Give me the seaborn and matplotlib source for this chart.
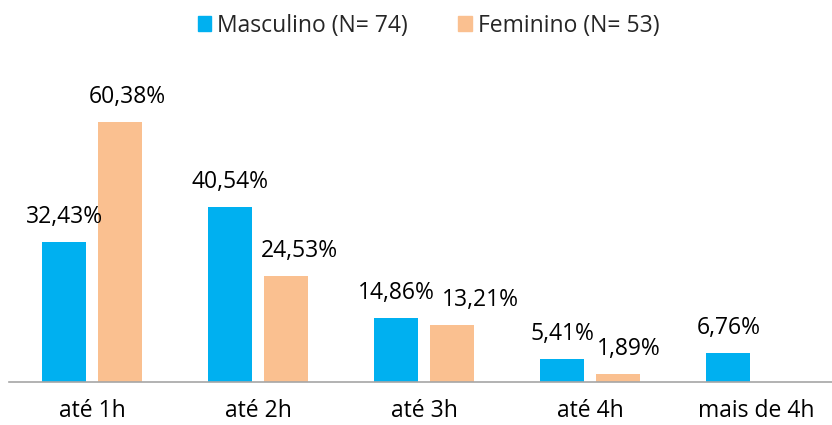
import numpy as np
import pandas as pd
import matplotlib
matplotlib.use("Agg")
import matplotlib.pyplot as plt
import seaborn as sns

categorias = ["até 1h", "até 2h", "até 3h", "até 4h", "mais de 4h"]
masculino = [32.43, 40.54, 14.86, 5.41, 6.76]
feminino = [60.38, 24.53, 13.21, 1.89, np.nan]
series = ["Masculino (N= 74)", "Feminino (N= 53)"]
cores = ["#00B0F0", "#FAC090"]

df = pd.DataFrame({
    "cat": categorias * 2,
    "valor": masculino + feminino,
    "serie": [series[0]] * 5 + [series[1]] * 5,
})

sns.set_style("white")
plt.rcParams["font.family"] = ["Open Sans", "DejaVu Sans"]

fig = plt.figure(figsize=(8.32, 4.25), dpi=100)
ax = fig.add_axes([9 / 832, 43 / 425, 830 / 832, 302 / 425])

sns.barplot(data=df, x="cat", y="valor", hue="serie", palette=cores,
            width=0.663, gap=0.2, saturation=1, linewidth=0,
            ax=ax, legend=False)

ax.set_ylim(0, 70)
ax.set_xlim(-0.5, 4.5)
ax.set_xlabel("")
ax.set_ylabel("")
ax.set_yticks([])
ax.tick_params(axis="x", length=0, labelsize=16.5, pad=12, colors="#000000")
for s in ["top", "right", "left"]:
    ax.spines[s].set_visible(False)
ax.spines["bottom"].set_color("#A6A6A6")
ax.spines["bottom"].set_linewidth(1.2)

# rótulos de valor (deslocamento horizontal em pixels)
desloc = [[0, 0, 0, 0, 0], [8, 14, 29, 11, 0]]
for k, cont in enumerate(ax.containers[:2]):
    vals = masculino if k == 0 else feminino
    for i, bar in enumerate(cont):
        v = vals[i]
        if np.isnan(v):
            continue
        txt = f"{v:.2f}".replace(".", ",") + "%"
        ax.annotate(txt, (bar.get_x() + bar.get_width() / 2, v),
                    xytext=(desloc[k][i], 25), textcoords="offset pixels",
                    ha="center", va="center", fontsize=16.5, color="#000000")

handles = [plt.Rectangle((0, 0), 1, 1, color=c) for c in cores]
fig.legend(handles, series, loc="center", bbox_to_anchor=(0.515, 0.94),
           ncol=2, frameon=False, fontsize=16.5, handlelength=0.6,
           handleheight=0.6, handletextpad=0.25, columnspacing=2.2)

fig.savefig("out.png", dpi=100)
